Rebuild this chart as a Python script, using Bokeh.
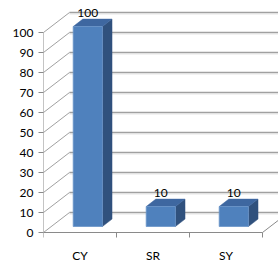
from bokeh.plotting import figure
from bokeh.models import Range1d, LinearAxis, FixedTicker
from bokeh.core.properties import value
from bokeh.embed import file_html
from bokeh.resources import INLINE

# ---- data ----
categories = ["CY", "SR", "SY"]
values = [100, 10, 10]
y_ticks = [0, 10, 20, 30, 40, 50, 60, 70, 80, 90, 100]

# ---- 3D projection settings (in data units) ----
DX = 26 / 73.0      # full depth offset along x
DY = 10.0           # full depth offset along y
F1, F2 = 0.3, 0.67  # bar front / back depth fractions
HALF_W = 0.2        # half bar width

W, H = 278, 268
LEFT, BOTTOM = 43, 30
X_END = (W - LEFT) / 73.0
Y_START, Y_END = -3, 116

p = figure(width=W, height=H, output_backend="svg", toolbar_location=None,
           x_range=Range1d(0, X_END), y_range=Range1d(Y_START, Y_END),
           x_axis_location=None, y_axis_location=None,
           min_border_left=LEFT, min_border_right=0, min_border_top=0, min_border_bottom=BOTTOM)
p.xgrid.visible = False
p.ygrid.visible = False
p.outline_line_color = None
p.background_fill_color = "white"

FONT = "Lato"
GRID = "#a0a0a0"
AXIS = "#8a8a8a"

# back-wall gridlines and left-wall diagonals
p.segment(x0=[DX] * len(y_ticks), y0=[t + DY for t in y_ticks],
          x1=[X_END] * len(y_ticks), y1=[t + DY for t in y_ticks],
          line_color=GRID, line_width=1.4)
p.segment(x0=[DX] * len(y_ticks), y0=[t + DY - 0.7 for t in y_ticks],
          x1=[X_END] * len(y_ticks), y1=[t + DY - 0.7 for t in y_ticks],
          line_color="#dedede", line_width=1)
p.segment(x0=[0] * len(y_ticks), y0=y_ticks,
          x1=[DX] * len(y_ticks), y1=[t + DY for t in y_ticks],
          line_color=GRID, line_width=1)

# floor edges and front axis line
n = len(categories)
p.segment(x0=[0, 0, n], y0=[0, 0, 0], x1=[n, 0, n + DX], y1=[0, y_ticks[-1], DY],
          line_color=AXIS, line_width=1)
# category boundary ticks
bounds = list(range(n + 1))
p.segment(x0=bounds, y0=[0] * len(bounds), x1=bounds, y1=[-2.5] * len(bounds),
          line_color=AXIS, line_width=1)

# bars
front_xs, front_ys, top_xs, top_ys, side_xs, side_ys = [], [], [], [], [], []
for i, v in enumerate(values):
    c = i + 0.5
    xl, xr = c - HALF_W, c + HALF_W
    a1x, a1y = F1 * DX, F1 * DY
    a2x, a2y = F2 * DX, F2 * DY
    front_xs.append([xl + a1x, xr + a1x, xr + a1x, xl + a1x])
    front_ys.append([a1y, a1y, v + a1y, v + a1y])
    top_xs.append([xl + a1x, xr + a1x, xr + a2x, xl + a2x])
    top_ys.append([v + a1y, v + a1y, v + a2y, v + a2y])
    side_xs.append([xr + a1x, xr + a2x, xr + a2x, xr + a1x])
    side_ys.append([a1y, a2y, v + a2y, v + a1y])

p.patches(side_xs, side_ys, fill_color="#30517d", line_color="#30517d", line_width=0.5)
p.patches(top_xs, top_ys, fill_color="#3e67a0", line_color="#3e67a0", line_width=0.5)
p.patches(front_xs, front_ys, fill_color="#4f81bd", line_color="#6b95c9", line_width=0.8)

# data labels
p.text(x=[i + 0.5 + F1 * DX for i in range(n)],
       y=[v + F2 * DY + 3 for v in values],
       text=[str(v) for v in values],
       text_font=value(FONT), text_font_size="12px", text_color="black",
       text_align="center", text_baseline="alphabetic")

# y axis (labels + ticks)
yax = LinearAxis(ticker=FixedTicker(ticks=y_ticks, minor_ticks=[]))
yax.axis_line_color = None
yax.major_tick_out = 5
yax.major_tick_in = 0
yax.major_tick_line_color = AXIS
yax.minor_tick_line_color = None
yax.major_label_standoff = 5
yax.major_label_text_font = FONT
yax.major_label_text_font_size = "12px"
yax.major_label_text_color = "black"
p.add_layout(yax, "left")

# x axis (category labels)
centers = [i + 0.5 for i in range(n)]
xax = LinearAxis(ticker=FixedTicker(ticks=centers, minor_ticks=[]),
                 major_label_overrides={c: lab for c, lab in zip(centers, categories)})
xax.axis_line_color = None
xax.major_tick_line_color = None
xax.minor_tick_line_color = None
xax.major_tick_out = 0
xax.major_tick_in = 0
xax.major_label_standoff = 9
xax.major_label_text_font = FONT
xax.major_label_text_font_size = "12px"
xax.major_label_text_color = "black"
p.add_layout(xax, "below")

open("out.html", "w").write(file_html(p, INLINE))
